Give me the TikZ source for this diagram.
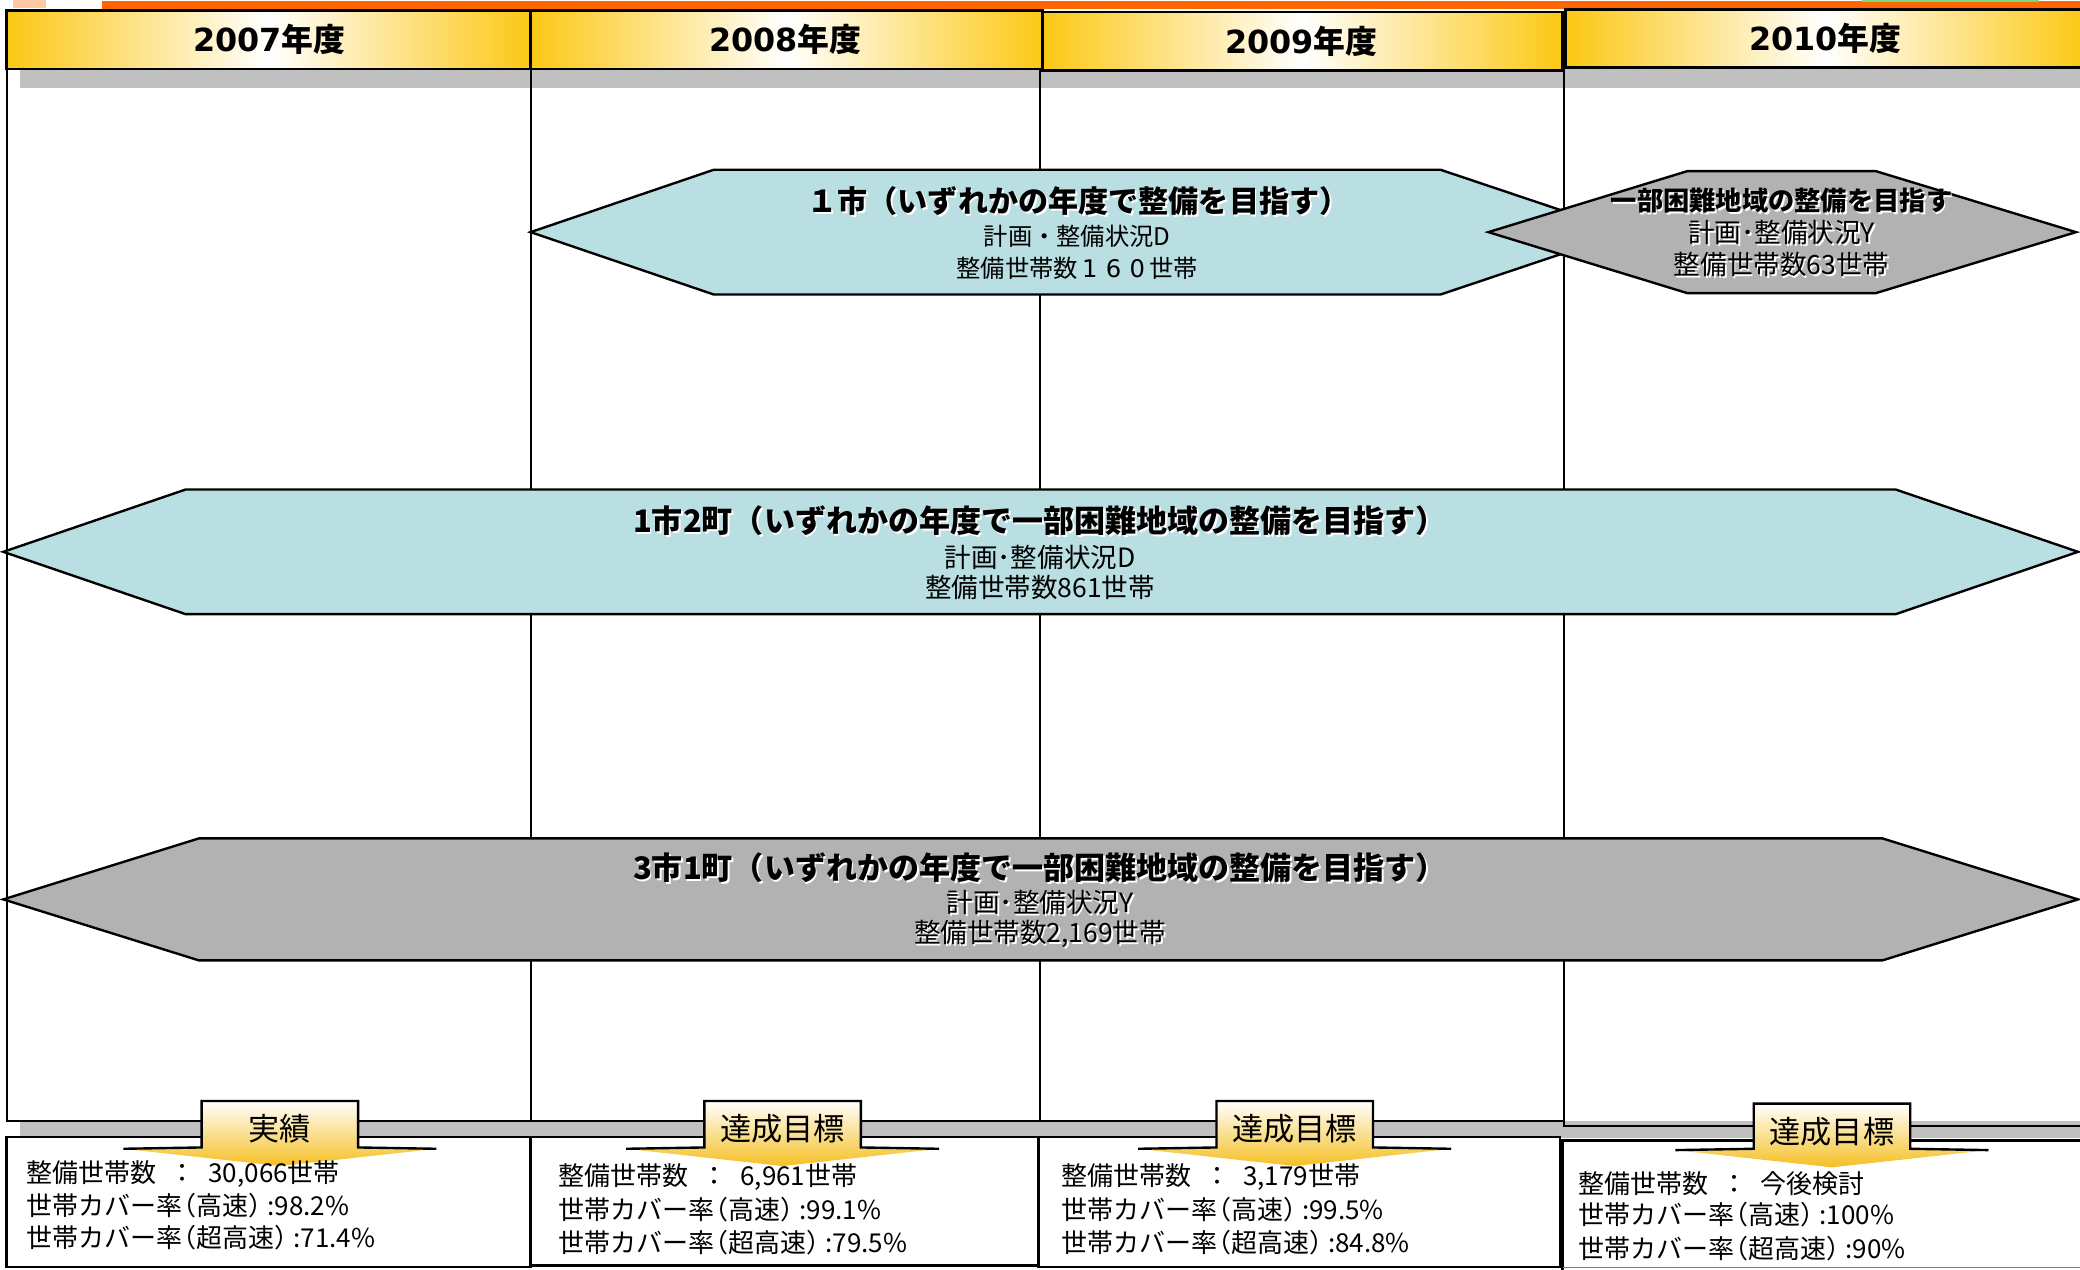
\documentclass[tikz,border=0pt]{standalone}
\usepackage{fontspec}
\setmainfont{Noto Sans CJK JP}
\newfontfamily\dvs{DejaVu Sans}
\usetikzlibrary{calc}

\definecolor{hdrY}{RGB}{252,200,20}
\definecolor{cyanF}{RGB}{185,223,227}
\definecolor{grayF}{RGB}{178,178,178}
\definecolor{shadowG}{RGB}{192,192,192}
\definecolor{orangeBar}{RGB}{255,102,0}
\definecolor{coY}{RGB}{245,192,35}
\definecolor{greenBar}{RGB}{110,220,130}

\newcommand{\shd}[1]{\rlap{\kern1.4pt\raisebox{-1.4pt}{\textcolor{white}{#1}}}#1}
\newcommand{\fs}[1]{\fontsize{#1pt}{#1pt}\selectfont}
\newcommand{\sep}{\enspace：\enspace{}}
\newcommand{\lp}{\makebox[0.55em][r]{（}}
\newcommand{\rp}{\makebox[0.55em][l]{）}}
\newcommand{\fwd}[1]{\makebox[0.98em]{\dvs #1}}
\newcommand{\callout}[3]{%
  \shade[top color=white, middle color=coY!50, bottom color=coY]
    ({#1-59},#2) -- ({#1+59},#2) -- ({#1+59},#3) -- ({#1+118},{#3+1}) -- (#1,{#3+14}) -- ({#1-118},{#3+1}) -- ({#1-59},#3) -- cycle;
  \draw[line width=1.8pt, line join=miter]
    ({#1-118},{#3+1}) -- ({#1-59},#3) -- ({#1-59},#2) -- ({#1+59},#2) -- ({#1+59},#3) -- ({#1+118},{#3+1});
}

\tikzset{
  txt/.style={inner sep=0pt, outer sep=0pt, text=black},
  hdrtext/.style={txt, font=\fs{24}\bfseries},
  body/.style={txt, anchor=west, font=\fs{19.6}},
  cotext/.style={txt, font=\fs{23.5}},
  hexb/.style={draw=black, line width=1.8pt, line join=miter},
  frame/.style={draw=black, line width=1.5pt},
  boxb/.style={draw=black, line width=2pt},
}

\begin{document}
\begin{tikzpicture}[x=1pt,y=-1pt]
\useasboundingbox (0,0) rectangle (1568,957);
\fill[white] (0,0) rectangle (1568,957);

% top decorations
\fill[orangeBar!35] (10,0) rectangle (35,6);
\fill[orangeBar] (77,1) rectangle (1568,7);
\fill[greenBar] (1404,0) rectangle (1537,1.2);

% header shadow
\fill[shadowG] (15,52) rectangle (1568,66);

% bottom strip
\fill[shadowG] (15,845) rectangle (1568,858);

% frame lines
\draw[frame] (5,52) -- (5,845) -- (1179,845);
\draw[frame] (400,52) -- (400,845);
\draw[frame] (784,52) -- (784,845);
\draw[frame] (1179,51) -- (1179,849) -- (1572,849);

% headers
\foreach \xa/\xb/\ya/\yb in {5/400/8/52, 400/786/8/52, 786/1178/9/53, 1180/1572/7/51} {
  \shade[left color=hdrY, right color=hdrY, middle color=white] (\xa,\ya) rectangle (\xb,\yb);
  \draw[boxb] (\xa,\ya) rectangle (\xb,\yb);
}
\node[hdrtext] (h2007) at (203,30) {{\dvs\bfseries 2007}年度};
\node[hdrtext] (h2008) at (592,30) {{\dvs\bfseries 2008}年度};
\node[hdrtext] (h2009) at (981,31) {{\dvs\bfseries 2009}年度};
\node[hdrtext] (h2010) at (1376,29) {{\dvs\bfseries 2010}年度};

% lower boxes
\draw[boxb] (5,857) rectangle (400,955);
\draw[boxb] (400,857) rectangle (783,954);
\draw[boxb] (783,857) rectangle (1176,955);
\draw[boxb] (1572,860) -- (1178,860) -- (1178,957);
\draw[gray, line width=1pt] (1178,955.5) -- (1568,955.5);

% hexagons
\draw[hexb, fill=cyanF] (400,175) -- (538,128) -- (1086,128) -- (1226,175) -- (1086,222) -- (538,222) -- cycle;
\draw[hexb, fill=grayF] (1122,175) -- (1272,129) -- (1414,129) -- (1565,175) -- (1414,221) -- (1272,221) -- cycle;
\draw[hexb, fill=cyanF] (2.5,416) -- (140,369) -- (1429,369) -- (1566.5,416) -- (1429,463) -- (140,463) -- cycle;
\draw[hexb, fill=grayF] (2.5,678) -- (150,632) -- (1419,632) -- (1566.5,678) -- (1419,724) -- (150,724) -- cycle;

% hexagon texts
\node[txt, font=\fs{22.7}\bfseries] (t1a) at (813,152) {\shd{１市（いずれかの年度で整備を目指す）}};
\node[txt, font=\fs{18.3}] (t1b) at (812,178) {計画・整備状況D};
\node[txt, font=\fs{18.3}] (t1c) at (812,202) {整備世帯数\fwd{1}\fwd{6}\fwd{0}世帯};

\node[txt, font=\fs{19.8}\bfseries] (t2a) at (1343,152) {\shd{一部困難地域の整備を目指す}};
\node[txt, font=\fs{20}] (t2b) at (1343,176) {\shd{計画･整備状況Y}};
\node[txt, font=\fs{20}] (t2c) at (1343,200) {\shd{整備世帯数63世帯}};

\node[txt, font=\fs{23.4}\bfseries] (t3a) at (784,393) {\shd{1市2町（いずれかの年度で一部困難地域の整備を目指す）}};
\node[txt, font=\fs{20}] (t3b) at (784,420) {計画･整備状況D};
\node[txt, font=\fs{20}] (t3c) at (784,443) {整備世帯数861世帯};

\node[txt, font=\fs{23.4}\bfseries] (t4a) at (784,655) {\shd{3市1町（いずれかの年度で一部困難地域の整備を目指す）}};
\node[txt, font=\fs{20}] (t4b) at (784,681) {\shd{計画･整備状況Y}};
\node[txt, font=\fs{20}] (t4c) at (784,705) {\shd{整備世帯数2,169世帯}};

% callouts
\callout{211}{830}{865}
\callout{590}{830}{865}
\callout{976}{830}{865}
\callout{1381}{832}{866}
\node[cotext] (c1) at (211,851) {実績};
\node[cotext] (c2) at (590,851) {達成目標};
\node[cotext] (c3) at (976,851) {達成目標};
\node[cotext] (c4) at (1381,853) {達成目標};

% bottom texts
\node[body] (b1a) at (20,885) {整備世帯数\sep 30,066世帯};
\node[body] (b1b) at (20,909) {世帯カバー率\lp 高速\rp\,:98.2\%};
\node[body] (b1c) at (20,933) {世帯カバー率\lp 超高速\rp\,:71.4\%};

\node[body] (b2a) at (421,887) {整備世帯数\sep 6,961世帯};
\node[body] (b2b) at (421,912) {世帯カバー率\lp 高速\rp\,:99.1\%};
\node[body] (b2c) at (421,937) {世帯カバー率\lp 超高速\rp\,:79.5\%};

\node[body] (b3a) at (800,887) {整備世帯数\sep 3,179世帯};
\node[body] (b3b) at (800,912) {世帯カバー率\lp 高速\rp\,:99.5\%};
\node[body] (b3c) at (800,937) {世帯カバー率\lp 超高速\rp\,:84.8\%};

\node[body] (b4a) at (1190,892) {整備世帯数\sep 今後検討};
\node[body] (b4b) at (1190,916) {世帯カバー率\lp 高速\rp\,:100\%};
\node[body] (b4c) at (1190,941) {世帯カバー率\lp 超高速\rp\,:90\%};
\end{tikzpicture}
\end{document}
